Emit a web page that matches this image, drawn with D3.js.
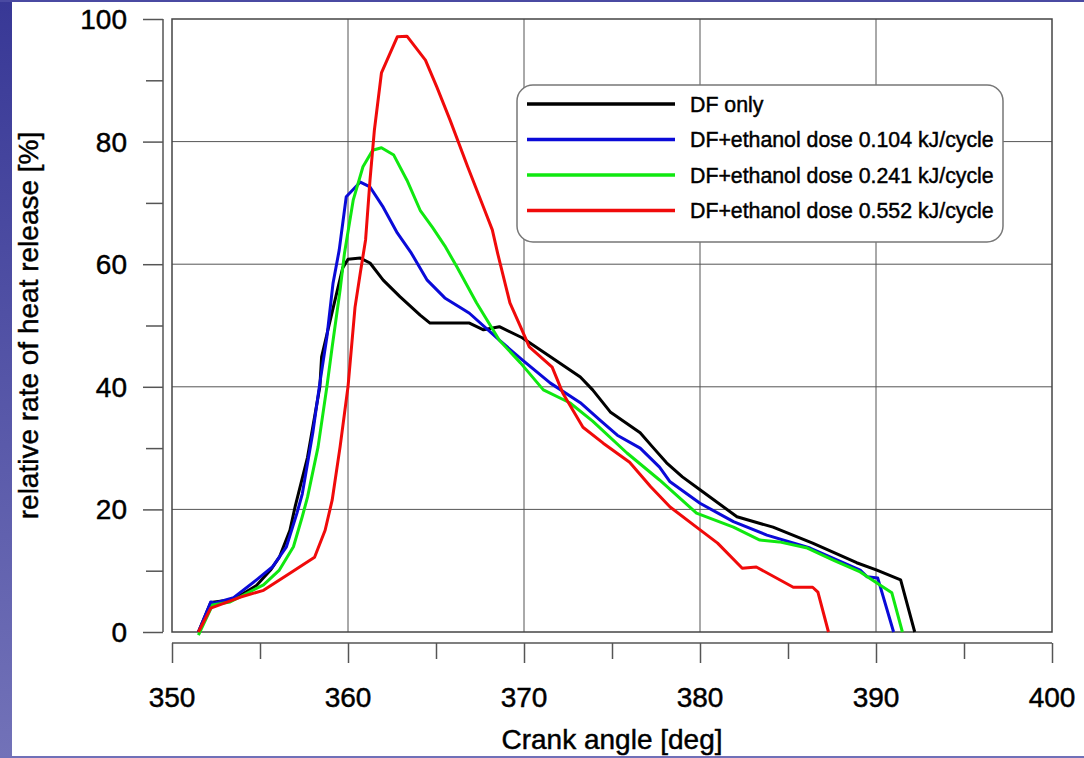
<!DOCTYPE html>
<html>
<head>
<meta charset="utf-8">
<script src="https://cdn.jsdelivr.net/npm/d3@7"></script>
<style>
    body { margin: 0; background: #fff; }
    svg { display: block; font-family: "Liberation Sans", Arial, sans-serif; }
    svg text { fill: #000; stroke: #000; stroke-width: 0.45; }
    .grid line { stroke: #555; stroke-width: 1; }
    .axis path, .axis line { stroke: #555; stroke-width: 1.5; }
    .series { fill: none; stroke-width: 3; stroke-linejoin: round; }
</style>
</head>
<body>
<svg id="chart" width="1084" height="758"></svg>
<script>
// axis ticks
const xTicks = [350, 360, 370, 380, 390, 400];
const yTicks = [0, 20, 40, 60, 80, 100];

const seriesNames = ["DF only",
                     "DF+ethanol dose 0.104 kJ/cycle",
                     "DF+ethanol dose 0.241 kJ/cycle",
                     "DF+ethanol dose 0.552 kJ/cycle"];
const seriesColors = ["#000000", "#0a0ad8", "#10e810", "#f00a0a"];

// DF only
const dfAngle = [351.5, 352.2, 353.5, 354.8, 355.6, 356.1, 356.7, 357.0, 357.7, 358.4, 358.5, 359.4, 359.7, 360.0, 360.7,
                 361.25, 362.0, 362.95, 364.1, 364.66, 366.9, 367.7, 368.6, 369.9, 371.5, 373.2, 373.9, 374.9, 376.6,
                 377.3, 378.1, 379.0, 380.0, 382.1, 384.15, 386.4, 388.9, 390.05, 391.4, 392.2];
const dfValue = [0, 4.8, 5.3, 7.6, 10.1, 12.2, 16.6, 20.5, 28.5, 40, 44.9, 55.8, 59.4, 60.8, 61,
                 60.2, 57.4, 54.7, 51.7, 50.4, 50.4, 49.3, 49.8, 48, 44.9, 41.6, 39.5, 35.9, 32.5,
                 30.2, 27.6, 25.3, 23.2, 18.8, 17.1, 14.5, 11.3, 10.1, 8.5, 0];

// ethanol 0.104 kJ/cycle
const e104Angle = [351.5, 352.2, 352.4, 353.5, 354.8, 355.7, 356.5, 357.1, 357.4, 358.0, 358.4, 358.8, 359.15, 359.5,
                   359.9, 360.7, 361.25, 362.0, 362.8, 363.6, 364.5, 365.5, 366.4, 366.9, 368.6, 369.9, 371.5,
                   373.2, 374.3, 375.3, 376.6, 377.7, 378.3, 380.0, 381.9, 383.8, 386.25, 389.1, 389.5, 390.1, 391.0];
const e104Value = [0, 4.9, 4.7, 5.6, 8.5, 10.6, 13.9, 19.4, 22.5, 32.5, 40.6, 48.1, 56.9, 62.3,
                   71, 73.4, 72.6, 69.3, 65.1, 61.8, 57.4, 54.5, 52.9, 52, 47.6, 44.4, 40.6,
                   37.4, 34.6, 32.1, 30, 26.9, 24.5, 21, 18, 15.8, 13.7, 10.1, 9, 8.8, 0];

// ethanol 0.241 kJ/cycle
const e241Angle = [351.5, 352.3, 353.3, 355.2, 356.1, 356.9, 357.4, 357.7, 358.3, 358.8, 359.1, 359.55, 359.8, 360.3,
                   360.85, 361.4, 361.9, 362.6, 363.35, 364.1, 364.8, 365.5, 366.2, 367.3, 368.6, 369.8, 371.1,
                   372.6, 373.9, 375.85, 377.7, 379.8, 381.9, 383.4, 384.5, 386.1, 387.6, 389.1, 390.05, 390.9, 391.5];
const e241Value = [-0.5, 4.4, 4.9, 7.7, 10.1, 13.9, 18.8, 22, 30.2, 40, 46.5, 55.8, 61.8, 70.5,
                   75.9, 78.6, 79, 77.8, 73.7, 68.8, 66, 63, 59.5, 53.7, 47.6, 43.9, 39.5,
                   37.4, 34.4, 29.2, 24.8, 19.4, 17.1, 15, 14.7, 13.7, 11.7, 9.8, 8, 6.4, 0];

// ethanol 0.552 kJ/cycle
const e552Angle = [351.5, 352.2, 353.9, 355.2, 356.7, 358.1, 358.7, 359.1, 359.55, 360.0, 360.4, 360.7, 361.0, 361.25,
                   361.5, 361.9, 362.8, 363.35, 364.4, 365.05, 365.8, 366.8, 367.7, 368.2, 368.5, 369.2, 369.8,
                   370.3, 371.6, 372.2, 373.35, 374.5, 376.0, 377.2, 378.3, 379.8, 381.0, 382.4, 383.2, 385.3,
                   386.4, 386.7, 387.3];
const e552Value = [0, 3.9, 5.7, 6.8, 9.6, 12.2, 16.6, 21.5, 30.2, 40, 53, 58.6, 64, 73.7,
                   81.9, 91.2, 97.1, 97.2, 93.3, 88.9, 83.5, 75.9, 69.3, 65.6, 61.8, 53.7, 49.8,
                   46.5, 43.2, 39, 33.4, 30.8, 27.7, 23.7, 20.4, 17.1, 14.5, 10.4, 10.6, 7.3,
                   7.3, 6.5, 0];

const seriesAngles = [dfAngle, e104Angle, e241Angle, e552Angle];
const seriesValues = [dfValue, e104Value, e241Value, e552Value];

/** Class drawing the heat release chart. */
class HeatChart {
    constructor(svg) {
        this.svg = svg;
        this.left = 172; this.right = 1052;
        this.top = 19; this.bottom = 632;
        this.x = d3.scaleLinear().domain([350, 400]).range([this.left, this.right]);
        this.y = d3.scaleLinear().domain([0, 100]).range([this.bottom, this.top]);
    }

    /**
     * Slide style background: purple strip on the left and thin bands top / bottom
     */
    drawBackground() {
        let defs = this.svg.append("defs");
        let grad = defs.append("linearGradient")
            .attr("id", "side").attr("x1", 0).attr("y1", 0).attr("x2", 0).attr("y2", 1);
        grad.append("stop").attr("offset", "0%").attr("stop-color", "#383896");
        grad.append("stop").attr("offset", "100%").attr("stop-color", "#7272b8");
        this.svg.append("rect").attr("x", 0).attr("y", 0).attr("width", 12).attr("height", 758)
            .attr("fill", "url(#side)");
        this.svg.append("rect").attr("x", 0).attr("y", 0).attr("width", 1084).attr("height", 2)
            .attr("fill", "#4a4aa2");
        this.svg.append("rect").attr("x", 0).attr("y", 756).attr("width", 1084).attr("height", 2)
            .attr("fill", "#7070b8");
    }

    /**
     * Grid, frame and the two detached axes
     */
    drawAxes() {
        let x = this.x, y = this.y;
        let grid = this.svg.append("g").attr("class", "grid");
        grid.selectAll(".vx").data(xTicks.slice(1, -1)).enter().append("line")
            .attr("x1", d => x(d)).attr("x2", d => x(d))
            .attr("y1", this.top).attr("y2", this.bottom);
        grid.selectAll(".hy").data(yTicks.slice(1, -1)).enter().append("line")
            .attr("x1", this.left).attr("x2", this.right)
            .attr("y1", d => y(d)).attr("y2", d => y(d));

        this.svg.append("rect")
            .attr("x", this.left).attr("y", this.top)
            .attr("width", this.right - this.left).attr("height", this.bottom - this.top)
            .attr("fill", "none").attr("stroke", "#444").attr("stroke-width", 1.5);

        // x axis sits a bit below the frame
        let xAxis = this.svg.append("g").attr("class", "axis")
            .attr("transform", "translate(0," + (this.bottom + 11) + ")");
        xAxis.call(d3.axisBottom(x).tickValues(d3.range(350, 401, 5)).tickSize(16).tickSizeOuter(0).tickFormat(""));
        xAxis.selectAll(".tick line").filter(d => d % 10 === 0).attr("y2", 20);
        xAxis.select(".domain").attr("d", "M" + this.left + ",0H" + this.right);
        xAxis.append("g").selectAll("text").data(xTicks).enter().append("text")
            .attr("x", d => x(d)).attr("y", 64)
            .attr("text-anchor", "middle").attr("font-size", 28)
            .text(d => d);

        // y axis sits a bit left of the frame
        let yAxis = this.svg.append("g").attr("class", "axis")
            .attr("transform", "translate(" + (this.left - 9) + ",0)");
        yAxis.call(d3.axisLeft(y).tickValues(d3.range(0, 101, 10)).tickSize(17).tickSizeOuter(0).tickFormat(""));
        yAxis.selectAll(".tick line").filter(d => d % 20 === 0).attr("x2", -20);
        yAxis.select(".domain").attr("d", "M0," + this.top + "V" + this.bottom);
        yAxis.append("g").selectAll("text").data(yTicks).enter().append("text")
            .attr("x", -36).attr("y", d => y(d) + 10)
            .attr("text-anchor", "end").attr("font-size", 28)
            .text(d => d);

        this.svg.append("text")
            .attr("x", (this.left + this.right) / 2).attr("y", 749)
            .attr("text-anchor", "middle").attr("font-size", 28)
            .text("Crank angle [deg]");
        this.svg.append("text")
            .attr("transform", "translate(38," + ((this.top + this.bottom) / 2) + ") rotate(-90)")
            .attr("text-anchor", "middle").attr("font-size", 28)
            .text("relative rate of heat release [%]");
    }

    /**
     * Draws the four heat release curves
     */
    drawLines() {
        let x = this.x, y = this.y;
        let line = d3.line().x(d => x(d[0])).y(d => y(d[1]));
        let data = seriesAngles.map((a, i) => a.map((v, j) => [v, seriesValues[i][j]]));
        this.svg.append("g").selectAll("path")
            .data(data).enter().append("path")
            .attr("class", "series")
            .attr("stroke", (d, i) => seriesColors[i])
            .attr("d", line);
    }

    /**
     * Legend box in the upper right
     */
    drawLegend() {
        let g = this.svg.append("g").attr("transform", "translate(517,85)");
        g.append("rect").attr("width", 486).attr("height", 157).attr("rx", 16).attr("ry", 16)
            .attr("fill", "#fff").attr("stroke", "#777").attr("stroke-width", 1.5);
        let rows = g.selectAll(".row").data(seriesNames).enter().append("g")
            .attr("transform", (d, i) => "translate(0," + (19 + i * 35.5) + ")");
        rows.append("line").attr("x1", 10).attr("x2", 158)
            .attr("stroke", (d, i) => seriesColors[i]).attr("stroke-width", 3.5);
        rows.append("text").attr("x", 173).attr("y", 7.5)
            .attr("font-size", 21.3)
            .text(d => d);
    }
}

let svg = d3.select("#chart");
let chart = new HeatChart(svg);
chart.drawBackground();
chart.drawAxes();
chart.drawLines();
chart.drawLegend();
</script>
</body>
</html>
